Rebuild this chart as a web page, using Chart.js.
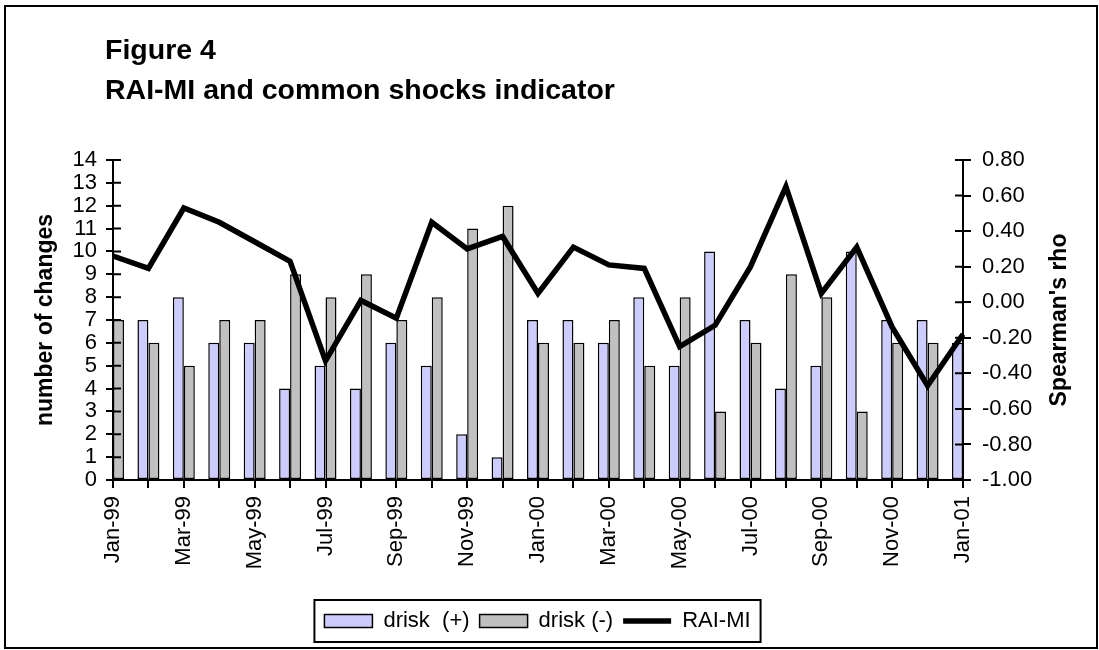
<!DOCTYPE html>
<html>
<head>
<meta charset="utf-8">
<script src="https://cdn.jsdelivr.net/npm/chart.js@4"></script>
<style>
  html, body { margin: 0; padding: 0; background: #fff; }
</style>
</head>
<body>
<canvas id="chart" width="1099" height="650"></canvas>
<script>
const months = ['Jan-99', 'Feb-99', 'Mar-99', 'Apr-99', 'May-99', 'Jun-99', 'Jul-99', 'Aug-99',
  'Sep-99', 'Oct-99', 'Nov-99', 'Dec-99', 'Jan-00', 'Feb-00', 'Mar-00', 'Apr-00', 'May-00',
  'Jun-00', 'Jul-00', 'Aug-00', 'Sep-00', 'Oct-00', 'Nov-00', 'Dec-00', 'Jan-01'];
const driskPlus = [7, 7, 8, 6, 6, 4, 5, 4, 6, 5, 2, 1, 7, 7, 6, 8, 5, 10, 7, 4, 5, 10, 7, 7, 6];
const driskMinus = [7, 6, 5, 7, 7, 9, 8, 9, 7, 8, 11, 12, 6, 6, 7, 5, 8, 3, 6, 9, 8, 3, 6, 6, 6];
const raiMi = [0.26, 0.19, 0.53, 0.45, 0.34, 0.23, -0.33, 0.01, -0.09, 0.45, 0.30, 0.37, 0.05,
  0.31, 0.21, 0.19, -0.25, -0.13, 0.20, 0.65, 0.05, 0.31, -0.14, -0.47, -0.18];
const countTicks = [0, 1, 2, 3, 4, 5, 6, 7, 8, 9, 10, 11, 12, 13, 14];
const rhoTicks = [-1.0, -0.8, -0.6, -0.4, -0.2, 0.0, 0.2, 0.4, 0.6, 0.8];

const FONT = "'Liberation Sans', Arial, sans-serif";
Chart.defaults.font.family = FONT;
Chart.defaults.color = '#000';

// title, axis titles, frame, legend box and the inner half of the tick marks
const decor = {
  id: 'decor',
  afterDraw(chart) {
    const ctx = chart.ctx;
    const area = chart.chartArea;
    ctx.save();
    ctx.strokeStyle = '#000';
    ctx.lineWidth = 2;
    ctx.strokeRect(5, 6, 1092, 642);

    ctx.fillStyle = '#000';
    ctx.textAlign = 'left';
    ctx.textBaseline = 'alphabetic';
    ctx.font = 'bold 28.5px ' + FONT;
    ctx.fillText('Figure 4', 105, 59);
    ctx.fillText('RAI-MI and common shocks indicator', 105, 99);

    ctx.font = 'bold 23px ' + FONT;
    ctx.textAlign = 'center';
    ctx.textBaseline = 'middle';
    [['number of changes', 46], ["Spearman's rho", 1060]].forEach(([t, x]) => {
      ctx.save();
      ctx.translate(x, (area.top + area.bottom) / 2);
      ctx.rotate(-Math.PI / 2);
      ctx.fillText(t, 0, 0);
      ctx.restore();
    });

    ctx.lineWidth = 2;
    ctx.beginPath();
    const y = chart.scales.y, y1 = chart.scales.y1;
    countTicks.forEach(v => {
      const p = y.getPixelForValue(v);
      ctx.moveTo(area.left, p); ctx.lineTo(area.left + 8, p);
    });
    rhoTicks.forEach(v => {
      const p = y1.getPixelForValue(v);
      ctx.moveTo(area.right - 8, p); ctx.lineTo(area.right, p);
    });
    ctx.stroke();

    const boxes = chart.legend.legendHitBoxes;
    if (boxes && boxes.length) {
      const l = Math.min(...boxes.map(b => b.left)) - 10;
      const r = Math.max(...boxes.map(b => b.left + b.width)) + 10;
      const t = boxes[0].top - 10;
      const h = boxes[0].height + 20;
      ctx.lineWidth = 2;
      ctx.strokeRect(l, t, r - l, h);
    }
    ctx.restore();
  }
};

const ctx = document.getElementById('chart').getContext('2d');
const chart = new Chart(ctx, {
  type: 'bar',
  data: {
    labels: months,
    datasets: [{
      label: 'drisk  (+)',
      data: driskPlus,
      backgroundColor: '#CCCCFF',
      borderColor: '#000',
      borderWidth: 1.5,
      borderSkipped: false,
      clip: 0,
      yAxisID: 'y'
    }, {
      label: 'drisk (-)',
      data: driskMinus,
      backgroundColor: '#C0C0C0',
      borderColor: '#000',
      borderWidth: 1.5,
      borderSkipped: false,
      clip: 0,
      yAxisID: 'y'
    }, {
      type: 'line',
      label: 'RAI-MI',
      data: raiMi,
      borderColor: '#000',
      backgroundColor: '#000',
      borderWidth: 5.5,
      pointRadius: 0,
      tension: 0,
      fill: false,
      order: -1,
      yAxisID: 'y1'
    }]
  },
  options: {
    responsive: false,
    animation: false,
    devicePixelRatio: 1,
    categoryPercentage: 0.62,
    barPercentage: 1,
    layout: { padding: { top: 160, bottom: 8, left: 10, right: 34 } },
    plugins: {
      title: { display: false },
      tooltip: { enabled: false },
      legend: {
        position: 'bottom',
        labels: {
          usePointStyle: true,
          pointStyleWidth: 48,
          boxHeight: 13,
          padding: 10,
          color: '#000',
          font: { size: 22 },
          sort: (a, b) => a.datasetIndex - b.datasetIndex,
          generateLabels(chart) {
            const items = Chart.defaults.plugins.legend.labels.generateLabels(chart);
            items.forEach(it => {
              it.pointStyle = chart.data.datasets[it.datasetIndex].type === 'line' ? 'line' : 'rect';
            });
            return items;
          }
        }
      }
    },
    scales: {
      x: {
        type: 'category',
        offset: false,
        grid: { offset: false, drawOnChartArea: false, tickLength: 8, color: '#000', lineWidth: 2 },
        border: { color: '#000', width: 2 },
        ticks: {
          autoSkip: false,
          maxRotation: 90,
          minRotation: 90,
          padding: 8,
          color: '#000',
          font: { size: 22 },
          callback: (v, i) => (i % 2 === 0 ? months[i] : '')
        },
        afterFit: s => { s.height = 120; }
      },
      y: {
        position: 'left',
        min: 0,
        max: 14,
        afterBuildTicks: s => { s.ticks = countTicks.map(v => ({ value: v })); },
        grid: { drawOnChartArea: false, tickLength: 7, color: '#000', lineWidth: 2 },
        border: { color: '#000', width: 2 },
        ticks: { autoSkip: false, padding: 9, color: '#000', font: { size: 22 } },
        afterFit: s => { s.width = 103; }
      },
      y1: {
        position: 'right',
        min: -1,
        max: 0.8,
        afterBuildTicks: s => { s.ticks = rhoTicks.map(v => ({ value: v })); },
        grid: { drawOnChartArea: false, tickLength: 8, color: '#000', lineWidth: 2 },
        border: { color: '#000', width: 2 },
        ticks: { autoSkip: false, padding: 11, color: '#000', font: { size: 22 }, callback: v => v.toFixed(2) },
        afterFit: s => { s.width = 102; }
      }
    }
  },
  plugins: [decor]
});
</script>
</body>
</html>
